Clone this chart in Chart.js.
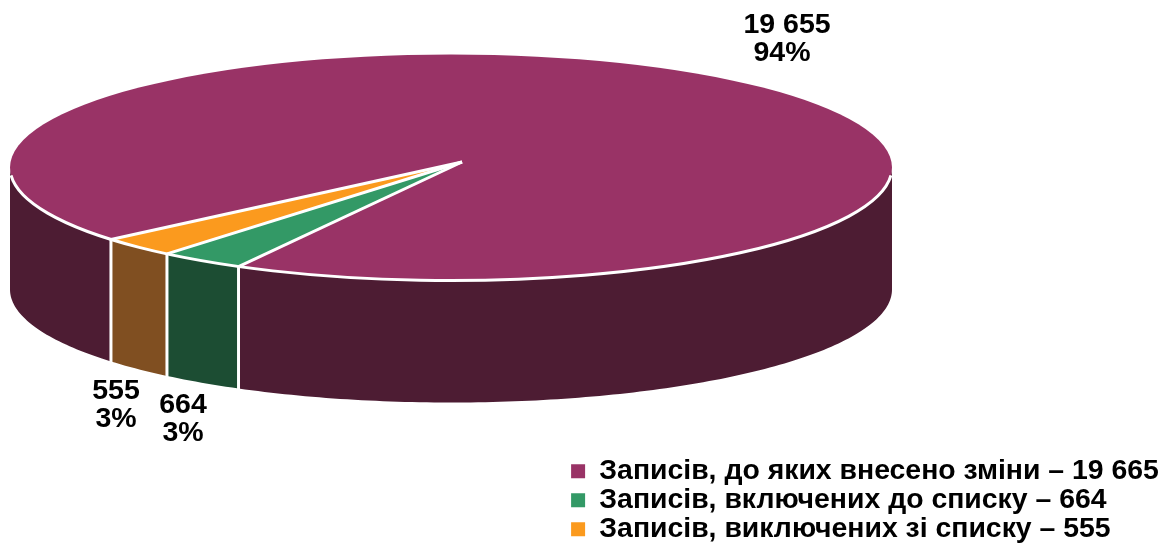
<!DOCTYPE html>
<html>
<head>
<meta charset="utf-8">
<style>
  html, body { margin: 0; padding: 0; background: #fff; }
  canvas { display: block; }
</style>
<script src="https://cdn.jsdelivr.net/npm/chart.js@4/dist/chart.umd.min.js"></script>
</head>
<body>
<canvas id="pie3d" width="1169" height="544"></canvas>
<script>
const categories = [
    'Записів, до яких внесено зміни – 19 665',
    'Записів, включених до списку – 664',
    'Записів, виключених зі списку – 555'
];
const values = [19655, 664, 555];
const valueLabels = ['19 655', '664', '555'];
const percentLabels = ['94%', '3%', '3%'];
const topColors = ['#993366', '#339966', '#FB9A1E'];
const wallColors = ['#4D1C33', '#1C4D33', '#804F21'];

// label anchor per slice: value x, percent x, first line middle y
const labelPlaces = [[787, 782, 25], [183, 183, 405], [116, 116, 391]];

// the rim ellipse and the tip of the slices (the tip sits off-centre in the reference)
const rim = { cx: 451, cy: 167.5, rx: 441, ry: 113 };
const tip = { x: 462, y: 162 };
const depth = 122;
const pieWidth = 510;
const pieHeight = 170; // squash of the pie itself, picked so the slice edges land where they do in the picture

// where a ray leaving the tip at pie angle a meets the rim; returns rim parameter
function rimParam(a) {
    const ox = (tip.x - rim.cx) / rim.rx;
    const oy = (tip.y - rim.cy) / rim.ry;
    const dx = pieWidth * Math.cos(a) / rim.rx;
    const dy = pieHeight * Math.sin(a) / rim.ry;
    const qa = dx * dx + dy * dy;
    const qb = ox * dx + oy * dy;
    const qc = ox * ox + oy * oy - 1;
    const t = (-qb + Math.sqrt(qb * qb - qa * qc)) / qa;
    return Math.atan2(oy + t * dy, ox + t * dx);
}

function rimPoint(theta) {
    return [rim.cx + rim.rx * Math.cos(theta), rim.cy + rim.ry * Math.sin(theta)];
}

function drawWallPart(ctx, from, to, color) {
    ctx.beginPath();
    const steps = Math.max(2, Math.ceil((to - from) * 60));
    for (let i = 0; i <= steps; i++) {
        const p = rimPoint(from + (to - from) * i / steps);
        if (i === 0) ctx.moveTo(p[0], p[1]); else ctx.lineTo(p[0], p[1]);
    }
    for (let i = steps; i >= 0; i--) {
        const p = rimPoint(from + (to - from) * i / steps);
        ctx.lineTo(p[0], p[1] + depth);
    }
    ctx.closePath();
    ctx.fillStyle = color;
    ctx.fill();
}

const pie3d = {
    id: 'pie3d',
    afterLayout(chart) {
        chart.legend.left = 570.5;
    },
    beforeDatasetsDraw(chart) {
        const ctx = chart.ctx;
        const arcs = chart.getDatasetMeta(0).data;

        // side walls, front half of the rim only
        arcs.forEach((arc, i) => {
            let from = rimParam(arc.startAngle);
            let to = rimParam(arc.endAngle);
            while (to <= from) to += Math.PI * 2;
            for (let k = -1; k <= 1; k++) {
                const lo = Math.max(from, k * 2 * Math.PI);
                const hi = Math.min(to, k * 2 * Math.PI + Math.PI);
                if (hi > lo) drawWallPart(ctx, lo, hi, wallColors[i]);
            }
        });

        // flatten the library's pie and move it onto the tip, cut to the rim
        const arc = arcs[0];
        const R = arc.outerRadius;
        ctx.save();
        ctx.beginPath();
        ctx.ellipse(rim.cx, rim.cy, rim.rx, rim.ry, 0, 0, Math.PI * 2);
        ctx.clip();
        ctx.translate(tip.x, tip.y);
        ctx.scale(pieWidth / R, pieHeight / R);
        ctx.translate(-arc.x, -arc.y);
    },
    afterDatasetsDraw(chart) {
        const ctx = chart.ctx;
        const arcs = chart.getDatasetMeta(0).data;
        ctx.restore();

        ctx.strokeStyle = '#fff';
        ctx.lineWidth = 3;

        // white seam along the front of the rim
        ctx.beginPath();
        ctx.ellipse(rim.cx, rim.cy, rim.rx, rim.ry, 0, 0.07, Math.PI - 0.07);
        ctx.stroke();

        // seams on the top face and down the wall
        arcs.forEach(arc => {
            const p = rimPoint(rimParam(arc.startAngle));
            ctx.beginPath();
            ctx.moveTo(tip.x, tip.y);
            ctx.lineTo(p[0], p[1]);
            ctx.stroke();
            ctx.beginPath();
            ctx.moveTo(p[0], p[1]);
            ctx.lineTo(p[0], p[1] + depth + 1);
            ctx.stroke();
        });

        // value labels
        ctx.fillStyle = '#000';
        ctx.font = 'bold 28.5px "Liberation Sans", Arial, sans-serif';
        ctx.textAlign = 'center';
        ctx.textBaseline = 'middle';
        arcs.forEach((arc, i) => {
            const place = labelPlaces[i];
            ctx.fillText(valueLabels[i], place[0], place[2]);
            ctx.fillText(percentLabels[i], place[1], place[2] + 28);
        });
    }
};

new Chart(document.getElementById('pie3d'), {
    type: 'pie',
    data: {
        labels: categories,
        datasets: [{
            data: values,
            backgroundColor: topColors,
            borderWidth: 0
        }]
    },
    options: {
        responsive: false,
        animation: false,
        rotation: 236.5,
        layout: { padding: { right: 11, bottom: 0 } },
        plugins: {
            tooltip: { enabled: false },
            legend: {
                position: 'right',
                align: 'end',
                labels: {
                    boxWidth: 14,
                    boxHeight: 14,
                    padding: 0.6,
                    color: '#000',
                    font: { family: '"Liberation Sans", Arial, sans-serif', size: 28.4, weight: 'bold' },
                    generateLabels(chart) {
                        return categories.map((text, i) => ({
                            text: text,
                            fillStyle: topColors[i],
                            strokeStyle: topColors[i],
                            lineWidth: 0,
                            index: i
                        }));
                    }
                }
            }
        }
    },
    plugins: [pie3d]
});
</script>
</body>
</html>
